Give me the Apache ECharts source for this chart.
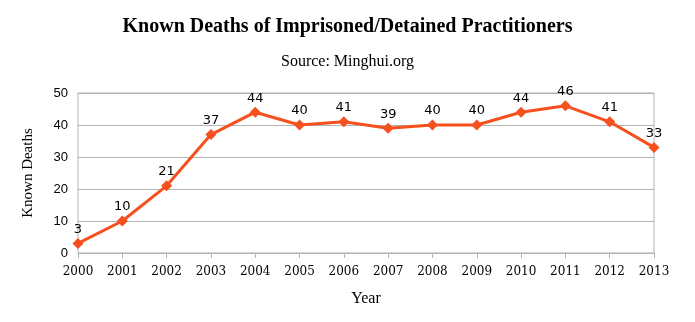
<!DOCTYPE html>
<html><head><meta charset="utf-8">
<script src="https://cdn.jsdelivr.net/npm/echarts@6/dist/echarts.min.js"></script>
<style>html,body{margin:0;padding:0;background:#fff}#c{width:695px;height:322px}</style>
</head><body><div id="c"></div>
<script>
const years = ['2000','2001','2002','2003','2004','2005','2006','2007','2008','2009','2010','2011','2012','2013'];
const deaths = [3,10,21,37,44,40,41,39,40,40,44,46,41,33];
const yTicks = [0,10,20,30,40,50];

const chart = echarts.init(document.getElementById('c'));
chart.setOption({
  animation: false,
  backgroundColor: '#fff',
  title: [
    {text: 'Known Deaths of Imprisoned/Detained Practitioners', left: 'center', top: 12,
     textStyle: {fontFamily: 'Liberation Serif', fontWeight: 'bold', fontSize: 20, color: '#000'}},
    {text: 'Source: Minghui.org', left: 'center', top: 49,
     textStyle: {fontFamily: 'Liberation Serif', fontWeight: 'normal', fontSize: 16, color: '#000'}}
  ],
  grid: {left: 78, right: 41, top: 93, bottom: 69, show: true, borderColor: '#b3b3b3', borderWidth: 1},
  xAxis: {
    type: 'category', data: years, boundaryGap: false,
    name: 'Year', nameLocation: 'middle', nameGap: 38,
    nameTextStyle: {fontFamily: 'Liberation Serif', fontSize: 16, color: '#000'},
    axisLine: {lineStyle: {color: '#b3b3b3'}},
    axisTick: {show: true, length: 5, lineStyle: {color: '#b3b3b3'}},
    axisLabel: {fontFamily: 'DejaVu Serif', fontSize: 12, color: '#000', margin: 13},
    splitLine: {show: false}
  },
  yAxis: {
    type: 'value', min: yTicks[0], max: yTicks[yTicks.length-1], interval: 10,
    name: 'Known Deaths', nameLocation: 'middle', nameGap: 42,
    nameTextStyle: {fontFamily: 'Liberation Serif', fontSize: 15, color: '#000'},
    axisLine: {show: false}, axisTick: {show: false},
    axisLabel: {fontFamily: 'Liberation Sans', fontSize: 13, color: '#000', margin: 10},
    splitLine: {lineStyle: {color: '#b3b3b3'}}
  },
  series: [{
    type: 'line', data: deaths,
    symbol: 'diamond', symbolSize: 11,
    lineStyle: {color: '#f5501e', width: 3},
    itemStyle: {color: '#f5501e'},
    label: {show: true, position: 'top', distance: 2, fontFamily: 'DejaVu Sans', fontSize: 13, color: '#000'}
  }]
});
</script></body></html>
